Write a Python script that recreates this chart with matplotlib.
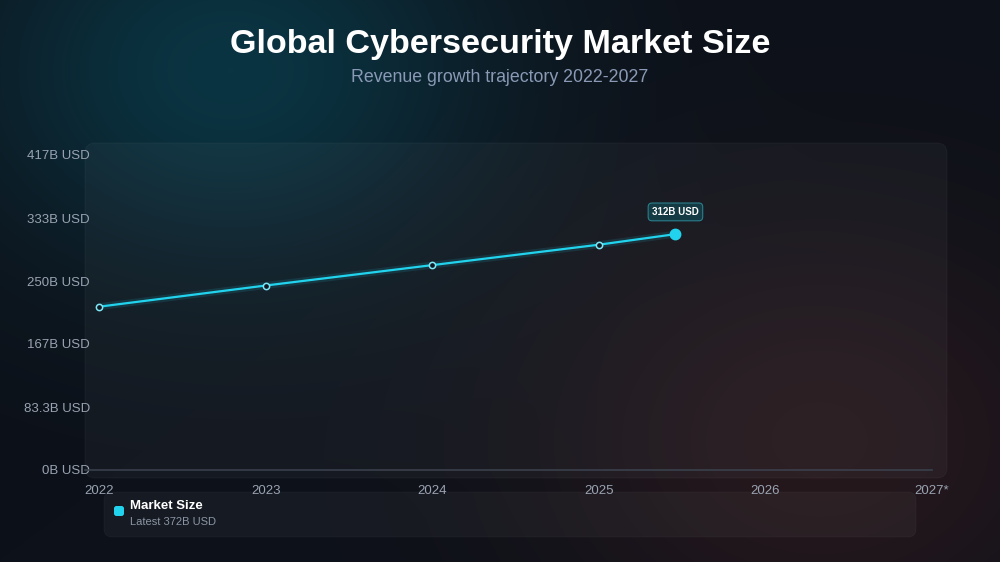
import numpy as np
import matplotlib.pyplot as plt
from matplotlib.patches import FancyBboxPatch

plt.rcParams['font.family'] = ['Liberation Sans', 'DejaVu Sans']

# data
years = [2022, 2023, 2024, 2025, 2025.46]
market_size = [216, 244, 271, 298, 312]
x_ticks = [2022, 2023, 2024, 2025, 2026, 2027]
x_labels = ['2022', '2023', '2024', '2025', '2026', '2027*']
y_ticks = [0, 83.33, 166.67, 250, 333.33, 416.67]
y_labels = ['0B USD', '83.3B USD', '167B USD', '250B USD', '333B USD', '417B USD']
latest_label = 'Latest 372B USD'
point_label = '312B USD'

W, H = 1000, 562
fig = plt.figure(figsize=(10, 5.62), dpi=100)

# background with soft glows
bg = fig.add_axes([0, 0, 1, 1])
bg.set_axis_off()
yy, xx = np.mgrid[0:H, 0:W]
base = np.array([13, 17, 25]) / 255.0
teal = np.array([10, 52, 66]) / 255.0
red = np.array([44, 26, 30]) / 255.0
g1 = np.exp(-(((xx - 230) / 260.0) ** 2 + ((yy - 70) / 200.0) ** 2))
g2 = np.exp(-(((xx - 820) / 280.0) ** 2 + ((yy - 440) / 220.0) ** 2))
img = base[None, None, :] * np.ones((H, W, 1))
img = img + (teal - base)[None, None, :] * g1[..., None] + (red - base)[None, None, :] * g2[..., None] * 0.8
bg.imshow(np.clip(img, 0, 1), extent=[0, W, H, 0], aspect='auto')
bg.set_xlim(0, W)
bg.set_ylim(H, 0)

# chart panel
panel = FancyBboxPatch((85, 143), 862, 335, boxstyle='round,pad=0,rounding_size=10',
                       facecolor='#ffffff', alpha=0.035, edgecolor='#ffffff', linewidth=0.8)
bg.add_patch(panel)
# legend card
card = FancyBboxPatch((104, 492), 812, 45, boxstyle='round,pad=0,rounding_size=8',
                      facecolor='#ffffff', alpha=0.04, edgecolor='#ffffff', linewidth=0.6)
bg.add_patch(card)

# main axes
left_px, right_px = 85, 932
bottom_px, top_px = 470, 155
ax = fig.add_axes([left_px / W, (H - bottom_px) / H, (right_px - left_px) / W, (bottom_px - top_px) / H])
ax.set_facecolor('none')
ax.set_xlim(2022 - 14 / 166.6, 2027)
ax.set_ylim(0, 416.67)
for s in ['top', 'right', 'left']:
    ax.spines[s].set_visible(False)
ax.spines['bottom'].set_color('#3a404c')
ax.spines['bottom'].set_linewidth(1.2)

ax.set_xticks(x_ticks)
ax.set_xticklabels(x_labels)
ax.set_yticks(y_ticks)
ax.set_yticklabels(y_labels)
ax.tick_params(axis='both', length=0, colors='#9aa3b2', labelsize=9.5)
ax.tick_params(axis='y', pad=-3.5)
ax.tick_params(axis='x', pad=10.5)

# glow + line
ax.plot(years, market_size, color='#22d3ee', linewidth=5, alpha=0.12, solid_capstyle='round')
ax.plot(years, market_size, color='#22d3ee', linewidth=1.6)
ax.plot(years[:-1], market_size[:-1], 'o', markersize=4.5, markerfacecolor='#111822',
        markeredgecolor='#7fe6f5', markeredgewidth=1.1)
ax.plot(years[-1], market_size[-1], 'o', markersize=7.5, color='#22d3ee')

ax.annotate(point_label, (years[-1], market_size[-1]), xytext=(0, 16), textcoords='offset points',
            ha='center', va='center', fontsize=7, fontweight='bold', color='white',
            bbox=dict(boxstyle='round,pad=0.4,rounding_size=0.4', facecolor='#143a44',
                      edgecolor='#2a7f8c', linewidth=0.8))

# titles
fig.text(0.5, 1 - 45 / H, 'Global Cybersecurity Market Size', ha='center', va='center',
         fontsize=24.6, fontweight='bold', color='white')
fig.text(0.5, 1 - 78 / H, 'Revenue growth trajectory 2022-2027', ha='center', va='center',
         fontsize=12.8, color='#8a9ab6')

# legend content
bg.add_patch(FancyBboxPatch((114, 506), 10, 10, boxstyle='round,pad=0,rounding_size=2.5',
                            facecolor='#22d3ee', edgecolor='none'))
bg.text(130, 506, 'Market Size', ha='left', va='center', fontsize=9.5, fontweight='bold', color='white')
bg.text(130, 522, latest_label, ha='left', va='center', fontsize=8, color='#8c95a5')

fig.savefig('out.png', dpi=100)
